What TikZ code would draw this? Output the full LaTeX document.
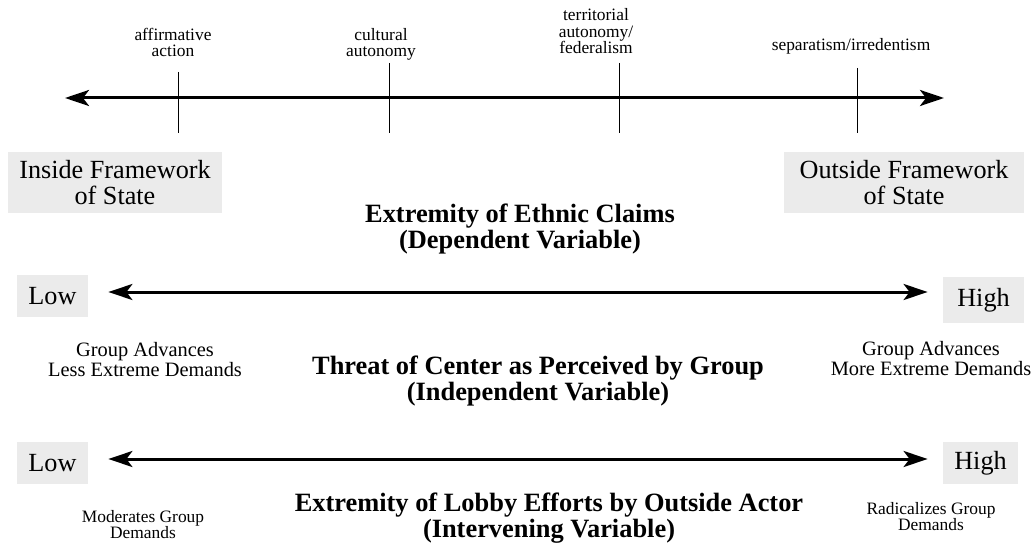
\documentclass[tikz,border=0pt]{standalone}
\usepackage{fontspec}
\setmainfont{Liberation Serif}
\usetikzlibrary{positioning}
\usetikzlibrary{arrows.meta}
\tikzset{
	endbox/.style={
		fill=black!8, inner sep=0pt, align=center,
		font=\fontsize{13.1}{13}\selectfont
	},
	claim/.style={
		inner sep=0pt, align=center, anchor=south,
		font=\fontsize{8.7}{8.2}\selectfont
	},
	varlabel/.style={
		inner sep=0pt, align=center,
		font=\fontsize{13.2}{12}\selectfont\bfseries
	},
	effect/.style={
		inner sep=0pt, align=center,
		font=\fontsize{10.2}{10}\selectfont
	},
	small effect/.style={
		effect, font=\fontsize{8.7}{8}\selectfont
	},
	axis/.style={
		line width=1.5pt, {Stealth[length=12pt,width=8pt,inset=3pt]}-{Stealth[length=12pt,width=8pt,inset=3pt]}
	},
	tick/.style={
		line width=0.5pt
	}
}

\begin{document}
\begin{tikzpicture}[x=0.5pt, y=-0.5pt]
\useasboundingbox (0,0) rectangle (1036,545);

% dependent variable
\coordinate (claims-left) at (65,98);
\coordinate (claims-right) at (944,98);
\draw [axis] (claims-left) -- (claims-right);
\foreach \n/\x/\t in {aff/178/72, cul/389/63, ter/619/63, sep/857/68}{
	\coordinate (\n-top) at (\x,\t);
	\coordinate (\n-bot) at (\x,133);
	\draw [tick] (\n-top) -- (\n-bot);
}
\node [claim] (aff) at (173,57) {affirmative\\action};
\node [claim] (cul) at (381,61) {cultural\\autonomy};
\node [claim] (ter) at (596,54) {territorial\\autonomy/\\federalism};
\node [claim] (sep) at (851,55) {separatism/irredentism};

\node [endbox, minimum width=107pt, minimum height=30.5pt] (inside) at (115,182.5) {Inside Framework\\of State};
\node [endbox, minimum width=120pt, minimum height=30.5pt] (outside) at (904,182.5) {Outside Framework\\of State};
\node [varlabel] (dependent) at (520,229) {Extremity of Ethnic Claims\\(Dependent Variable)};

% independent variable
\node [endbox, minimum width=35.5pt, minimum height=21pt] (low1) at (52.5,296) {Low};
\node [endbox, minimum width=40.5pt, minimum height=23pt] (high1) at (983.5,300) {High};
\draw [axis] ([xshift=10pt,yshift=2pt]low1.east) -- ([xshift=-7.5pt,yshift=4pt]high1.west);
\node [effect] (less) at (145,360) {Group Advances\\Less Extreme Demands};
\node [effect] (more) at (931,359) {Group Advances\\More Extreme Demands};
\node [varlabel] (independent) at (538,381) {Threat of Center as Perceived by Group\\(Independent Variable)};

% intervening variable
\node [endbox, minimum width=35.5pt, minimum height=21pt] (low2) at (52.5,463) {Low};
\node [endbox, minimum width=37.5pt, minimum height=21pt] (high2) at (980.5,463) {High};
\draw [axis] ([xshift=10pt,yshift=2pt]low2.east) -- ([xshift=-7.5pt,yshift=2pt]high2.west);
\node [small effect] (moderates) at (143,525) {Moderates Group\\Demands};
\node [small effect] (radicalizes) at (931,517) {Radicalizes Group\\Demands};
\node [varlabel] (intervening) at (549,518) {Extremity of Lobby Efforts by Outside Actor\\(Intervening Variable)};
\end{tikzpicture}
\end{document}
